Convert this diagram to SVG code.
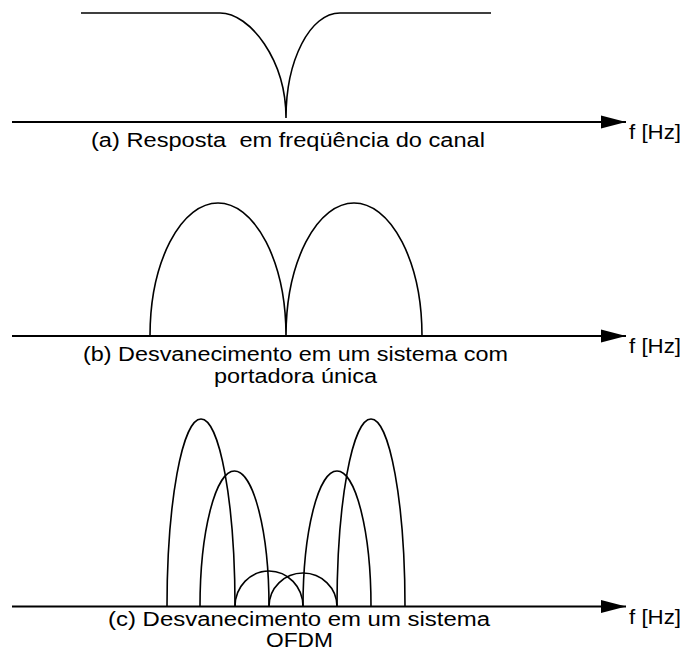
<svg xmlns="http://www.w3.org/2000/svg" width="685" height="657" viewBox="0 0 685 657">
<style>
.ax{stroke:#000;stroke-width:2.2;fill:none}
.cv{stroke:#000;stroke-width:1.6;fill:none}
.t{font-family:"Liberation Sans",Arial,sans-serif;font-size:20px;fill:#000;white-space:pre}
</style>
<defs>
<marker id="arr" markerWidth="26" markerHeight="14" refX="25" refY="7" orient="auto" markerUnits="userSpaceOnUse">
<path d="M0,0.5 L25,7 L0,13.5 Z" fill="#000"/>
</marker>
</defs>
<rect width="685" height="657" fill="#fff"/>
<g id="connectors">
<line class="ax" x1="12" y1="122" x2="626" y2="122" marker-end="url(#arr)"/>
<line class="ax" x1="12" y1="336" x2="626" y2="336" marker-end="url(#arr)"/>
<line class="ax" x1="12" y1="606.5" x2="626" y2="606.5" marker-end="url(#arr)"/>
</g>
<g id="panel-a">
<path class="cv" d="M81,13 L220,13 C250,13 286,60 286,118 C286,60 310,13 340,13 L491,13"/>
<text class="t" x="91" y="147" textLength="394" lengthAdjust="spacingAndGlyphs">(a) Resposta  em freqüência do canal</text>
<text class="t" x="629" y="139" textLength="52" lengthAdjust="spacingAndGlyphs">f [Hz]</text>
</g>
<g id="panel-b">
<path class="cv" d="M150,336 A68,133 0 0 1 286,336 A68,133 0 0 1 422,336"/>
<text class="t" x="83" y="361" textLength="425" lengthAdjust="spacingAndGlyphs">(b) Desvanecimento em um sistema com</text>
<text class="t" x="214" y="383" textLength="163" lengthAdjust="spacingAndGlyphs">portadora única</text>
<text class="t" x="629" y="353" textLength="52" lengthAdjust="spacingAndGlyphs">f [Hz]</text>
</g>
<g id="panel-c">
<path class="cv" d="M167,606.5 A34,187.5 0 0 1 235,606.5"/>
<path class="cv" d="M200,606.5 A34.5,135.5 0 0 1 269,606.5"/>
<path class="cv" d="M235,606.5 A34,35.5 0 0 1 303,606.5"/>
<path class="cv" d="M269,606.5 A34,33.5 0 0 1 337,606.5"/>
<path class="cv" d="M303,606.5 A34,135.5 0 0 1 371,606.5"/>
<path class="cv" d="M337,606.5 A34,187.5 0 0 1 405,606.5"/>
<text class="t" x="108" y="626" textLength="382" lengthAdjust="spacingAndGlyphs">(c) Desvanecimento em um sistema</text>
<text class="t" x="266" y="647" textLength="67" lengthAdjust="spacingAndGlyphs">OFDM</text>
<text class="t" x="629" y="623.5" textLength="52" lengthAdjust="spacingAndGlyphs">f [Hz]</text>
</g>
</svg>
